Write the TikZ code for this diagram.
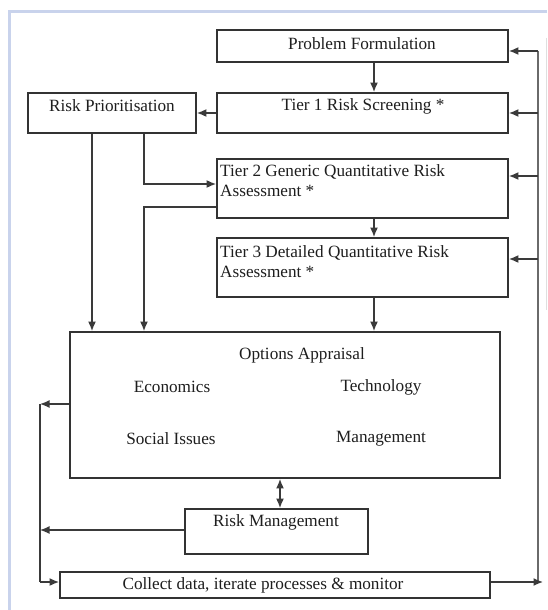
\documentclass[tikz,border=0pt]{standalone}
\usepackage{fontspec}
\setmainfont{Liberation Serif}
\usetikzlibrary{arrows.meta,calc}
\definecolor{boxline}{HTML}{333333}
\definecolor{conn}{HTML}{3A3A3A}
\definecolor{loopc}{HTML}{6A6A6A}
\definecolor{txt}{HTML}{1E1E1E}
\definecolor{framec}{HTML}{C9D3EC}
\begin{document}
\begin{tikzpicture}[x=1pt,y=-1pt,
  box/.style={draw=boxline,line width=1.9pt,rectangle,inner sep=0pt,fill=white},
  lbl/.style={text=txt,font=\fontsize{17.2}{20}\selectfont,inner sep=0pt},
  conline/.style={draw=conn,line width=1.4pt},
  arr/.style={conline,-{Latex[length=9.5pt,width=8pt]}},
  darr/.style={conline,{Latex[length=9.5pt,width=8pt]}-{Latex[length=9.5pt,width=8pt]}},
  loopline/.style={draw=loopc,line width=2pt}
]
\useasboundingbox (0,0) rectangle (547,610);
\fill[white] (0,0) rectangle (547,610);
% frame
\draw[framec,line width=3pt] (547,12) -- (9.5,12) -- (9.5,610);
\draw[gray!25,line width=1pt] (546,38) -- (546,310);

% boxes
\node[box,minimum width=291pt,minimum height=32pt] (pf) at (362.5,46) {};
\node[box,minimum width=291pt,minimum height=40pt] (t1) at (362.5,113) {};
\node[box,minimum width=168pt,minimum height=40pt] (rp) at (112,113) {};
\node[box,minimum width=291pt,minimum height=59pt] (t2) at (362.5,188.5) {};
\node[box,minimum width=291pt,minimum height=59pt] (t3) at (362.5,267.5) {};
\node[box,minimum width=430pt,minimum height=146pt] (opt) at (285,405) {};
\node[box,minimum width=183pt,minimum height=45pt] (rm) at (276.5,531.5) {};
\node[box,minimum width=430pt,minimum height=26pt] (col) at (275,585) {};

% texts
\node[lbl] (pft) at (362,44) {Problem Formulation};
\node[lbl] (t1t) at (363,106) {Tier 1 Risk Screening *};
\node[lbl] (rpt) at (112,106) {Risk Prioritisation};
\node[lbl,align=left,anchor=west] (t2t) at (220,181) {Tier 2 Generic Quantitative Risk\\Assessment *};
\node[lbl,align=left,anchor=west] (t3t) at (220,262) {Tier 3 Detailed Quantitative Risk\\Assessment *};
\node[lbl] (optt) at (302,355) {Options Appraisal};
\node[lbl] (eco) at (172,387) {Economics};
\node[lbl] (tec) at (381,387) {Technology};
\node[lbl] (soc) at (171,439) {Social Issues};
\node[lbl] (man) at (381,439) {Management};
\node[lbl] (rmt) at (276,522) {Risk Management};
\node[lbl] (colt) at (263,585) {Collect data, iterate processes \& monitor};

% helper coordinates
\coordinate (cx) at (374,0);
\coordinate (rpa) at (144,184);
\coordinate (rpb) at (92,0);
\coordinate (t2o) at (144,207);
\coordinate (dx) at (280,0);
\coordinate (ly1) at (40,404);
\coordinate (ly2) at (40,530);
\coordinate (ly3) at (40,582);
\coordinate (lt) at (538,51);
\coordinate (l1) at (538,113);
\coordinate (l2) at (538,176);
\coordinate (l3) at (538,259);
\coordinate (lb) at (538,582);
\coordinate (lbt) at (543,582);

% main chain
\draw[arr] (pf.south -| cx) -- (t1.north -| cx);
\draw[arr] (t1.west) -- (rp.east);
\draw[arr] (t2.south -| cx) -- (t3.north -| cx);
\draw[arr] (t3.south -| cx) -- (opt.north -| cx);
\draw[arr] (rp.south -| rpa) -- (rpa) -- (t2.west |- rpa);
\draw[arr] (rp.south -| rpb) -- (opt.north -| rpb);
\draw[arr] (t2.west |- t2o) -- (t2o) -- (opt.north -| t2o);
\draw[darr] (opt.south -| dx) -- (rm.north -| dx);

% left return
\draw[arr] (opt.west |- ly1) -- (ly1);
\draw[arr] (rm.west |- ly2) -- (ly2);
\draw[conline] (ly1) -- (ly3);
\draw[arr] (ly3) -- (col.west |- ly3);

% right loop
\draw[loopline] (lt) -- (lb);
\draw[arr] (col.east |- lb) -- (lbt);
\draw[arr] (lt) -- (pf.east |- lt);
\draw[arr] (l1) -- (t1.east |- l1);
\draw[arr] (l2) -- (t2.east |- l2);
\draw[arr] (l3) -- (t3.east |- l3);
\end{tikzpicture}
\end{document}
